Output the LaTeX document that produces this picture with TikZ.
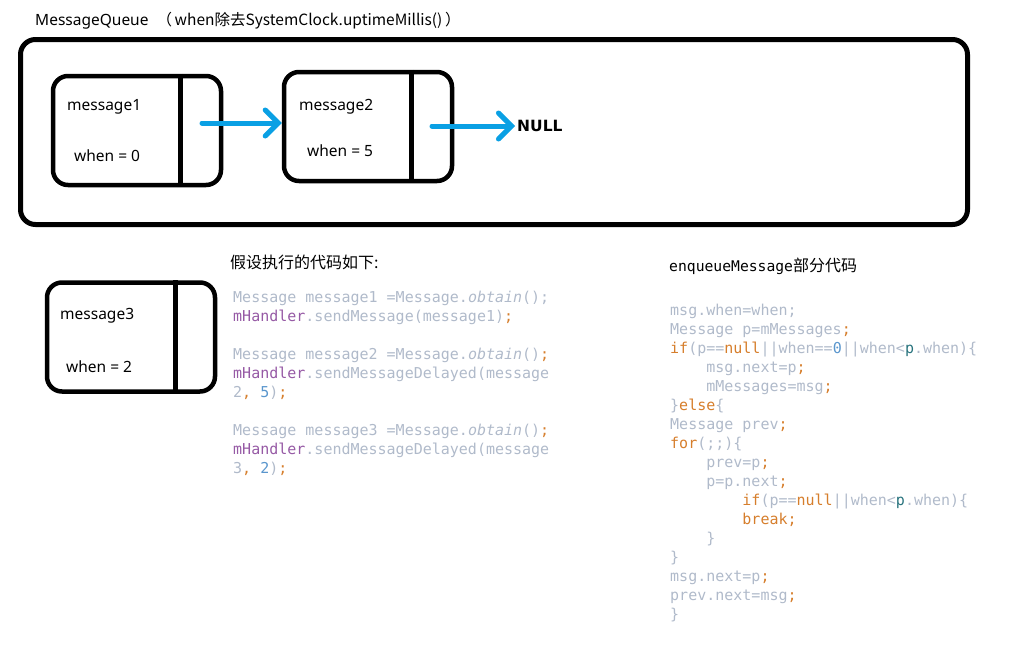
\documentclass[tikz,border=0pt]{standalone}
\usepackage{fontspec}
\usepackage{xcolor}
\usepackage{tikz}
\usetikzlibrary{arrows.meta}
\setmainfont{Noto Sans}
\newfontfamily\cjk{Noto Sans CJK SC}
\newfontfamily\codefont{DejaVu Sans Mono}
\newfontfamily\heavysans{DejaVu Sans Bold}

\definecolor{linkblue}{RGB}{10,160,228}
\definecolor{codegray}{RGB}{176,186,202}
\definecolor{codekw}{RGB}{214,126,44}
\definecolor{codefield}{RGB}{150,90,165}
\definecolor{codenum}{RGB}{90,150,205}
\definecolor{codevar}{RGB}{40,115,125}

\newcommand\kw[1]{\textcolor{codekw}{#1}}
\newcommand\nm[1]{\textcolor{codenum}{#1}}
\newcommand\fld[1]{\textcolor{codefield}{#1}}
\newcommand\pv[1]{\textcolor{codevar}{#1}}
\newcommand\ind{\phantom{xxxx}}

\begin{document}
\begin{tikzpicture}[
  x = 1pt, y = -1pt,
  queue/.style = {draw, line width = 5pt, rounded corners = 15pt,
                  minimum width = 947pt, minimum height = 185pt},
  msgbox/.style = {draw, line width = 4.5pt, rounded corners = 15pt, inner sep = 0pt,
                   minimum width = 168pt, minimum height = 109pt},
  divider/.style = {line width = 4.5pt},
  lbl/.style = {anchor = base west, inner sep = 0pt, font = \fontsize{15.5}{18}\selectfont},
  link/.style = {linkblue, line width = 5pt, line cap = round,
                 -{Straight Barb[length = 13pt, width = 26pt, line cap = round]}},
  code/.style = {anchor = base west, inner sep = 0pt, align = left, text = codegray,
                 font = \codefont\fontsize{15}{18.95}\selectfont}
  ]
  \useasboundingbox (0,0) rectangle (1034,648);

  % the queue
  \node[lbl] (title) at (35,25)
    {MessageQueue \ \cjk{（}\,when\cjk{除去}SystemClock.uptimeMillis()\,\cjk{）}};
  \node[queue] (queue) at (494,132) {};

  \node[msgbox] (m1) at (137,130.5) {};
  \draw[divider] ([xshift = -43pt]m1.north east) -- ([xshift = -43pt]m1.south east);
  \node[lbl] (m1name) at (67,110) {message1};
  \node[lbl] (m1when) at (74,161) {when = 0};

  \node[msgbox] (m2) at (368,126.5) {};
  \draw[divider] ([xshift = -43pt]m2.north east) -- ([xshift = -43pt]m2.south east);
  \node[lbl] (m2name) at (299,110) {message2};
  \node[lbl] (m2when) at (307,156) {when = 5};

  \node[anchor = west, inner sep = 2pt, font = \heavysans\fontsize{15.5}{18}\selectfont]
    (null) at (515,126) {NULL};

  \coordinate (m1ptr) at (202,123);
  \coordinate (m2ptr) at (432,126);
  \draw[link] (m1ptr) -- (m1ptr -| m2.west);
  \draw[link] (m2ptr) -- (null.west);

  % the new message
  \node[msgbox] (m3) at (131,337) {};
  \draw[divider] ([xshift = -42pt]m3.north east) -- ([xshift = -42pt]m3.south east);
  \node[lbl] (m3name) at (60,319) {message3};
  \node[lbl] (m3when) at (66,372) {when = 2};

  % code (base anchor = last line)
  \node[lbl, font = \cjk\fontsize{16}{18}\selectfont] (callhead) at (230,268)
    {假设执行的代码如下:};
  \node[code] (calls) at (233,473) {%
    Message message1 =Message.\textit{obtain}();\\
    \fld{mHandler}.sendMessage(message1)\kw{;}\\
    \mbox{}\\
    Message message2 =Message.\textit{obtain}()\kw{;}\\
    \fld{mHandler}.sendMessageDelayed(message\\
    2\kw{,} \nm{5})\kw{;}\\
    \mbox{}\\
    Message message3 =Message.\textit{obtain}()\kw{;}\\
    \fld{mHandler}.sendMessageDelayed(message\\
    3\kw{,} \nm{2})\kw{;}};

  \node[lbl] (enqhead) at (669,271)
    {{\codefont\fontsize{14.7}{18}\selectfont enqueueMessage}{\cjk\fontsize{16}{18}\selectfont 部分代码}};
  \node[code] (enqueue) at (670,619) {%
    msg.when=when;\\
    Message p=mMessages\kw{;}\\
    \kw{if}(p==\kw{null}||when==\nm{0}||when<\pv{p}.when)\{\\
    \ind msg.next=p\kw{;}\\
    \ind mMessages=msg\kw{;}\\
    \}\kw{else}\{\\
    Message prev\kw{;}\\
    \kw{for}(;;)\{\\
    \ind prev=p\kw{;}\\
    \ind p=p.next\kw{;}\\
    \ind\ind \kw{if}(p==\kw{null}||when<\pv{p}.when)\{\\
    \ind\ind \kw{break;}\\
    \ind \}\\
    \}\\
    msg.next=p\kw{;}\\
    prev.next=msg\kw{;}\\
    \}};
\end{tikzpicture}
\end{document}
